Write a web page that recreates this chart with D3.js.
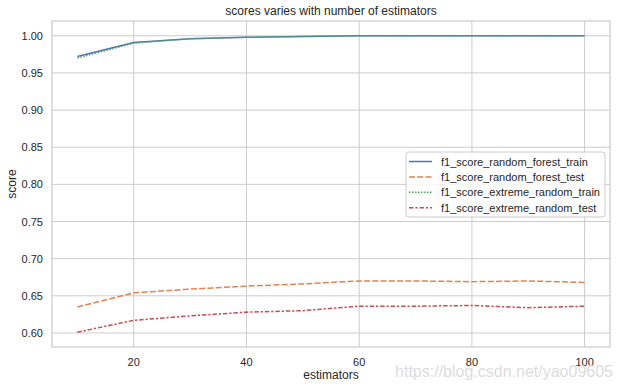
<!DOCTYPE html>
<meta charset="utf-8">
<style>
  body { margin: 0; background: #fff; }
  text { font-family: "Liberation Sans", Arial, sans-serif; fill: #262626; }
  .grid line { stroke: #cccccc; stroke-width: 1px; }
  .series { fill: none; stroke-width: 1.5px; }
</style>
<body>
<svg width="623" height="388"></svg>
<script src="https://d3js.org/d3.v7.min.js"></script>
<script>
  // estimators on the x axis
  var estimators = [10, 20, 30, 40, 50, 60, 70, 80, 90, 100];
  var rfTrain = [0.972, 0.991, 0.996, 0.998, 0.999, 1.000, 1.000, 1.000, 1.000, 1.000];
  var rfTest  = [0.635, 0.654, 0.659, 0.663, 0.666, 0.670, 0.670, 0.669, 0.670, 0.668];
  var erTrain = [0.970, 0.990, 0.996, 0.998, 0.999, 1.000, 1.000, 1.000, 1.000, 1.000];
  var erTest  = [0.601, 0.617, 0.623, 0.628, 0.630, 0.636, 0.636, 0.637, 0.634, 0.636];
  var names = ["f1_score_random_forest_train", "f1_score_random_forest_test",
               "f1_score_extreme_random_train", "f1_score_extreme_random_test"];
  var xTicks = [20, 40, 60, 80, 100];
  var yTicks = [0.60, 0.65, 0.70, 0.75, 0.80, 0.85, 0.90, 0.95, 1.00];

  var series = [rfTrain, rfTest, erTrain, erTest];
  var colors = ["#4c72b0", "#dd8452", "#55a868", "#c44e52"];
  var dashes = [null, "6,2.25", "1.5,1.5", "4.5,1.875,2.25,1.875"];

  var pl = 52, pr = 610, pt = 21, pb = 347;
  var svg = d3.select("svg");

  var x = d3.scaleLinear().domain([5.5, 104.5]).range([pl, pr]);
  var y = d3.scaleLinear().domain([0.5811, 1.0199]).range([pb, pt]);

  // grid
  var g = svg.append("g").attr("class", "grid");
  g.selectAll(".vx").data(xTicks).enter().append("line")
    .attr("x1", d => x(d)).attr("x2", d => x(d))
    .attr("y1", pt).attr("y2", pb);
  g.selectAll(".hy").data(yTicks).enter().append("line")
    .attr("y1", d => y(d)).attr("y2", d => y(d))
    .attr("x1", pl).attr("x2", pr);

  // frame
  svg.append("rect")
    .attr("x", pl).attr("y", pt)
    .attr("width", pr - pl).attr("height", pb - pt)
    .attr("fill", "none").attr("stroke", "#cccccc").attr("stroke-width", 1.25);

  // tick labels
  svg.selectAll(".xt").data(xTicks).enter().append("text")
    .attr("x", d => x(d)).attr("y", pb + 19)
    .attr("text-anchor", "middle").attr("font-size", 11)
    .text(d => d);
  svg.selectAll(".yt").data(yTicks).enter().append("text")
    .attr("x", pl - 9).attr("y", d => y(d) + 4)
    .attr("text-anchor", "end").attr("font-size", 11)
    .text(d => d.toFixed(2));

  // lines
  var line = d3.line()
    .x((d, i) => x(estimators[i]))
    .y(d => y(d));
  svg.selectAll(".series").data(series).enter().append("path")
    .attr("class", "series")
    .attr("d", d => line(d))
    .attr("stroke", (d, i) => colors[i])
    .attr("stroke-dasharray", (d, i) => dashes[i]);

  // labels
  svg.append("text")
    .attr("x", (pl + pr) / 2).attr("y", 15)
    .attr("text-anchor", "middle").attr("font-size", 12)
    .text("scores varies with number of estimators");
  svg.append("text")
    .attr("x", (pl + pr) / 2).attr("y", 379)
    .attr("text-anchor", "middle").attr("font-size", 12)
    .text("estimators");
  svg.append("text")
    .attr("transform", "translate(16," + ((pt + pb) / 2) + ") rotate(-90)")
    .attr("text-anchor", "middle").attr("font-size", 12)
    .text("score");

  // legend
  var lg = svg.append("g").attr("transform", "translate(406,152)");
  lg.append("rect")
    .attr("width", 199).attr("height", 65).attr("rx", 3)
    .attr("fill", "#fff").attr("fill-opacity", 0.8)
    .attr("stroke", "#cccccc");
  var item = lg.selectAll(".item").data(names).enter().append("g")
    .attr("transform", (d, i) => "translate(0," + (9.5 + i * 15.4) + ")");
  item.append("line")
    .attr("x1", 3).attr("x2", 26)
    .attr("stroke", (d, i) => colors[i])
    .attr("stroke-width", 1.5)
    .attr("stroke-dasharray", (d, i) => dashes[i]);
  item.append("text")
    .attr("x", 35).attr("y", 4)
    .attr("font-size", 11)
    .text(d => d);

  // watermark
  svg.append("text")
    .attr("x", 613).attr("y", 377)
    .attr("text-anchor", "end").attr("font-size", 16)
    .style("fill", "#dcdcdc")
    .text("https://blog.csdn.net/yao09605");
</script>
</body>
